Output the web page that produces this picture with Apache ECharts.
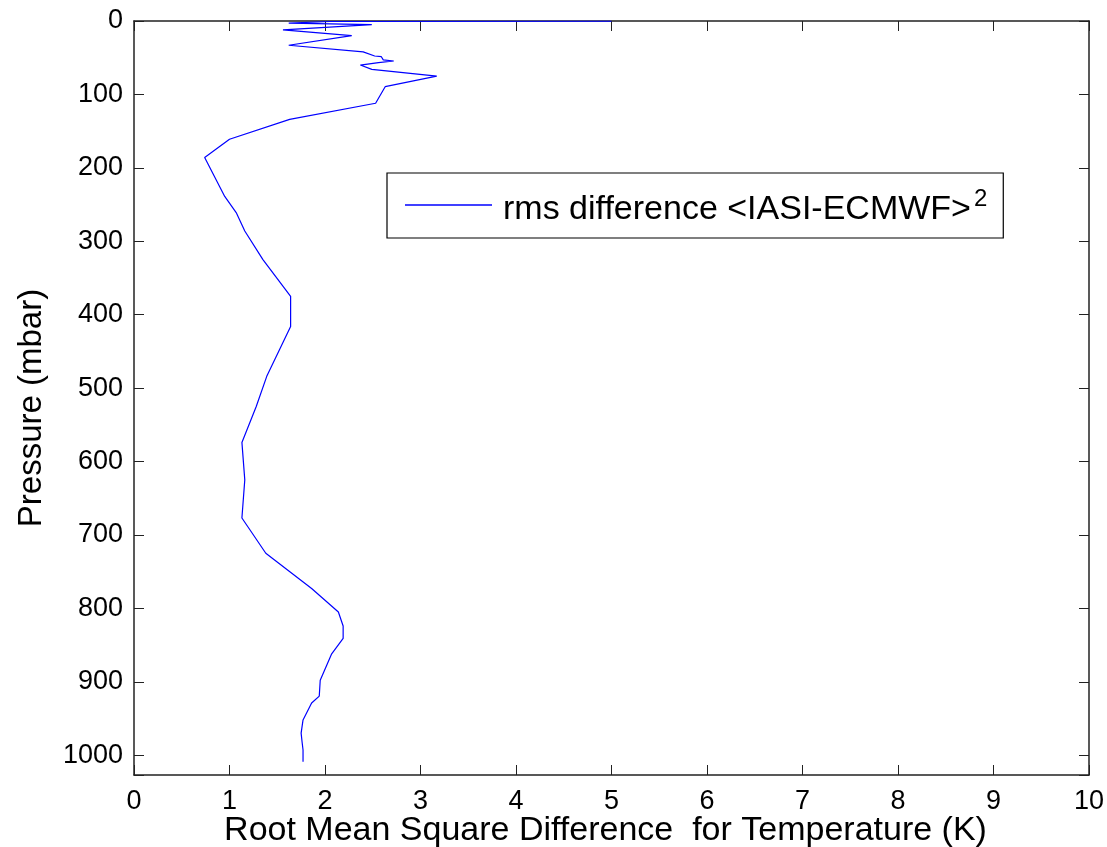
<!DOCTYPE html>
<html>
<head>
<meta charset="utf-8">
<script src="https://cdn.jsdelivr.net/npm/echarts@6/dist/echarts.min.js"></script>
<style>
html,body{margin:0;padding:0;background:#fff;}
#chart{width:1107px;height:847px;}
</style>
</head>
<body>
<div id="chart"></div>
<script>
// RMS difference (K) and pressure levels (mbar)
const rmsValues = [5.0, 2.05, 1.62, 2.49, 1.56, 2.28, 1.62, 2.40, 2.52, 2.59, 2.61, 2.72, 2.56, 2.37, 2.49, 3.17, 2.63, 2.53, 1.63, 1.00, 0.74, 0.95, 1.07, 1.16, 1.35, 1.64, 1.64, 1.39, 1.28, 1.13, 1.16, 1.13, 1.38, 1.86, 2.14, 2.19, 2.19, 2.07, 1.95, 1.94, 1.86, 1.77, 1.75, 1.76, 1.77, 1.77];
const pressureLevels = [0.1, 0.7, 3, 5, 12, 20, 33, 42, 47.7, 48.6, 53, 54.5, 56.8, 60, 65.9, 75, 89.5, 112, 134, 161, 186, 239, 261, 286, 325, 375, 416, 484, 525, 574, 625, 677, 725, 773, 805, 824, 841, 862, 898, 919.5, 929, 952, 970, 982, 993, 1009];
const seriesName = 'rms difference <IASI-ECMWF>';
const xTicks = {min: 0, max: 10, interval: 1};
const yTicks = {min: 0, max: 1027, interval: 100};
const xTitle = 'Root Mean Square Difference  for Temperature (K)';
const yTitle = 'Pressure (mbar)';

const font = "'Liberation Sans', Arial, Helvetica, sans-serif";

const chart = echarts.init(document.getElementById('chart'), null, {renderer: 'canvas'});
const axisLine = {show: true, onZero: false, lineStyle: {color: '#222', width: 1.5}};
const tick = {show: true, inside: true, length: 10, lineStyle: {color: '#222', width: 1}};
const yFmt = v => (v % 100 === 0 ? String(v) : '');

chart.setOption({
  animation: false,
  backgroundColor: '#fff',
  grid: {left: 134, right: 18, top: 21, bottom: 72, containLabel: false, outerBoundsMode: 'none'},
  legend: {
    show: true,
    left: 387, top: 173,
    orient: 'horizontal',
    padding: [10, 16, 11, 18],
    borderColor: '#000', borderWidth: 1.2,
    backgroundColor: '#fff',
    itemWidth: 87, itemHeight: 1.5,
    icon: 'rect',
    data: [{name: seriesName, icon: 'rect'}],
    formatter: n => '{a|' + n + '}{b|2}',
    textStyle: {
      color: '#000',
      padding: [0, 0, 0, 6],
      rich: {
        a: {fontFamily: font, fontSize: 34, color: '#000', lineHeight: 48, padding: [10, 0, 0, 0]},
        b: {fontFamily: font, fontSize: 24, color: '#000', lineHeight: 48, padding: [0, 0, 12, 3]}
      }
    }
  },
  xAxis: [{
    type: 'value', position: 'bottom',
    min: xTicks.min, max: xTicks.max, interval: xTicks.interval,
    axisLine, axisTick: tick, splitLine: {show: false},
    axisLabel: {fontFamily: font, fontSize: 27, color: '#000', margin: 13},
    name: xTitle, nameLocation: 'middle', nameGap: 39, nameMoveOverlap: false,
    nameTextStyle: {fontFamily: font, fontSize: 34, color: '#000', padding: [0, 12, 0, 0]}
  }, {
    type: 'value', position: 'top',
    min: xTicks.min, max: xTicks.max, interval: xTicks.interval,
    axisLine, axisTick: tick, splitLine: {show: false}, axisLabel: {show: false}
  }],
  yAxis: [{
    type: 'value', position: 'left', inverse: true,
    min: yTicks.min, max: yTicks.max, interval: yTicks.interval,
    axisLine, axisTick: tick, splitLine: {show: false},
    axisLabel: {fontFamily: font, fontSize: 27, color: '#000', margin: 11, formatter: yFmt},
    name: yTitle, nameLocation: 'middle', nameGap: 86,
    nameTextStyle: {fontFamily: font, fontSize: 33, color: '#000', padding: [0, 20, 0, 0]}
  }, {
    type: 'value', position: 'right', inverse: true,
    min: yTicks.min, max: yTicks.max, interval: yTicks.interval,
    axisLine, axisTick: tick, splitLine: {show: false}, axisLabel: {show: false}
  }],
  series: [{
    name: seriesName,
    type: 'line',
    xAxisIndex: 0, yAxisIndex: 0,
    showSymbol: false, symbol: 'none',
    color: '#0000ff',
    lineStyle: {color: '#0000ff', width: 1.2},
    data: rmsValues.map((v, i) => [v, pressureLevels[i]])
  }]
});
</script>
</body>
</html>
